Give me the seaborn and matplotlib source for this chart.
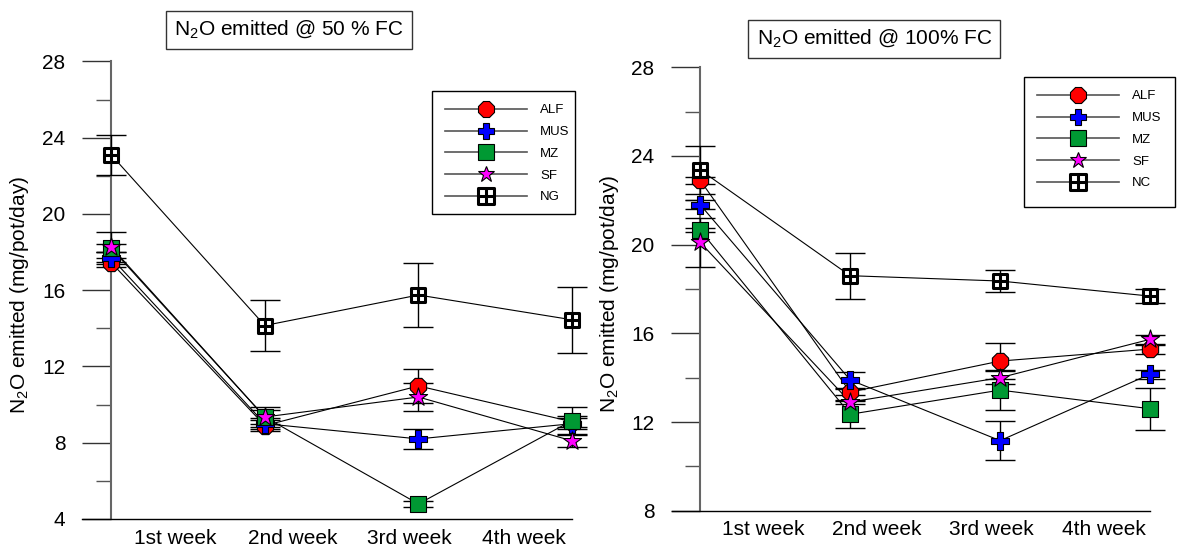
import numpy as np
import pandas as pd
import seaborn as sns
import matplotlib.pyplot as plt
from matplotlib.path import Path
from matplotlib.lines import Line2D
from matplotlib.patches import Rectangle
from matplotlib.ticker import MultipleLocator

weeks = ['1st week', '2nd week', '3rd week', '4th week']
series_50 = ['ALF', 'MUS', 'MZ', 'SF', 'NG']
series_100 = ['ALF', 'MUS', 'MZ', 'SF', 'NC']

# 50 % FC
alf_50 = [17.45, 8.9, 10.98, 9.1]
mus_50 = [17.7, 9.0, 8.2, 9.0]
mz_50 = [18.2, 9.35, 4.79, 9.16]
sf_50 = [18.27, 9.35, 10.4, 8.1]
ng_50 = [23.1, 14.15, 15.75, 14.45]
alf_50_err = [0.25, 0.3, 0.9, 0.3]
mus_50_err = [0.3, 0.3, 0.52, 0.3]
mz_50_err = [0.2, 0.35, 0.15, 0.7]
sf_50_err = [0.8, 0.5, 0.75, 0.3]
ng_50_err = [1.05, 1.36, 1.68, 1.72]

# 100 % FC
alf_100 = [22.9, 13.35, 14.75, 15.29]
mus_100 = [21.8, 13.9, 11.16, 14.16]
mz_100 = [20.65, 12.35, 13.44, 12.6]
sf_100 = [20.1, 12.9, 14.0, 15.73]
nc_100 = [23.37, 18.6, 18.36, 17.68]
alf_100_err = [0.15, 0.15, 0.8, 0.2]
mus_100_err = [0.2, 0.37, 0.89, 0.2]
mz_100_err = [0.1, 0.6, 0.9, 0.95]
sf_100_err = [1.1, 0.1, 0.3, 0.2]
nc_100_err = [1.1, 1.03, 0.5, 0.33]

plt.rcParams['font.family'] = ['Liberation Sans', 'DejaVu Sans']

# square with a cross inside, for the control treatment
box_cross = Path(
    [(-0.5, -0.5), (0.5, -0.5), (0.5, 0.5), (-0.5, 0.5), (-0.5, -0.5),
     (0, -0.5), (0, 0.5), (-0.5, 0), (0.5, 0)],
    [Path.MOVETO, Path.LINETO, Path.LINETO, Path.LINETO, Path.CLOSEPOLY,
     Path.MOVETO, Path.LINETO, Path.MOVETO, Path.LINETO])

colors = ['#ff0000', '#0000ff', '#009933', '#ff00ff', '#ffffff']
markers = ['8', 'P', 's', '*', box_cross]
sizes = [160, 150, 135, 190, 110]
edge_w = [0.8, 0.8, 0.8, 0.8, 2.2]


def make_df(names, vals, errs):
    rows = []
    for name, v, e in zip(names, vals, errs):
        for i in range(len(weeks)):
            rows.append({'series': name, 'x': i, 'val': v[i], 'err': e[i]})
    return pd.DataFrame(rows)


df50 = make_df(series_50, [alf_50, mus_50, mz_50, sf_50, ng_50],
               [alf_50_err, mus_50_err, mz_50_err, sf_50_err, ng_50_err])
df100 = make_df(series_100, [alf_100, mus_100, mz_100, sf_100, nc_100],
                [alf_100_err, mus_100_err, mz_100_err, sf_100_err, nc_100_err])

W, H = 1177, 551
fig = plt.figure(figsize=(11.77, 5.51), dpi=100)
ax1 = fig.add_axes([0.0697, 0.0581, 0.4163, 0.8303])
ax2 = fig.add_axes([0.5707, 0.0731, 0.4064, 0.8048])


def draw(ax, df, names, ylim, title, title_xy, leg_px):
    sns.lineplot(data=df, x='x', y='val', units='series', estimator=None,
                 color='black', lw=0.8, ax=ax, zorder=2, legend=False)
    ax.errorbar(df['x'], df['val'], yerr=df['err'], fmt='none', ecolor='black',
                elinewidth=1, capsize=11, capthick=1, zorder=3, clip_on=False)
    for name, c, m, s, w in zip(names, colors, markers, sizes, edge_w):
        sub = df[df['series'] == name]
        sns.scatterplot(data=sub, x='x', y='val', color=c, marker=m, s=s,
                        edgecolor='black', linewidth=w, ax=ax, zorder=5,
                        clip_on=False, legend=False)

    ax.set_xlim(-0.19, 3.0)
    ax.set_ylim(*ylim)
    for sp in ['top', 'right']:
        ax.spines[sp].set_visible(False)
    ax.spines['left'].set_position(('data', 0))
    ax.spines['left'].set_color('#666666')
    ax.spines['left'].set_linewidth(1.5)
    ax.spines['bottom'].set_color('black')
    ax.spines['bottom'].set_linewidth(1)

    ax.yaxis.set_major_locator(MultipleLocator(4))
    ax.yaxis.set_minor_locator(MultipleLocator(2))
    ax.tick_params(axis='y', which='major', length=21, width=1, color='#333333',
                   labelsize=15, pad=12)
    ax.tick_params(axis='y', which='minor', length=10.5, width=1, color='#555555')
    ax.set_xticks([0.42, 1.18, 1.94, 2.69])
    ax.set_xticklabels(weeks)
    ax.tick_params(axis='x', length=0, labelsize=15, pad=7)

    ax.set_xlabel('')
    ax.set_ylabel(r'N$_\mathregular{2}$O emitted (mg/pot/day)', fontsize=15)
    ax.yaxis.set_label_coords(-0.105, 0.49)

    fig.text(title_xy[0], title_xy[1], title, fontsize=15, ha='center', va='center',
             bbox=dict(boxstyle='square,pad=0.4', fc='white', ec='#333333', lw=1))

    # legend frame drawn as a plain rectangle, entries without frame
    x0, y0, x1, y1 = leg_px
    fig.patches.append(Rectangle((x0 / W, 1 - y1 / H), (x1 - x0) / W, (y1 - y0) / H,
                                 transform=fig.transFigure, fill=False,
                                 ec='black', lw=1, zorder=1))
    handles = [Line2D([0], [0], color='#555555', lw=1.2, marker=m, markersize=12,
                      markerfacecolor=c, markeredgecolor='black', markeredgewidth=w)
               for c, m, w in zip(colors, markers, edge_w)]
    fig.legend(handles, names, loc='upper left', bbox_to_anchor=(x0 / W, 1 - y0 / H),
               bbox_transform=fig.transFigure, fontsize=9.5, frameon=False,
               borderaxespad=0, handlelength=6.2, handletextpad=1.0,
               labelspacing=0.72, borderpad=1.0)


draw(ax1, df50, series_50, (4, 28), r'N$_\mathregular{2}$O emitted @ 50 % FC',
     (0.2457, 0.9456), (432, 91, 575, 214))
draw(ax2, df100, series_100, (8, 28), r'N$_\mathregular{2}$O emitted @ 100% FC',
     (0.7428, 0.9292), (1024, 77, 1175, 207))

fig.savefig('out.png', dpi=100)
